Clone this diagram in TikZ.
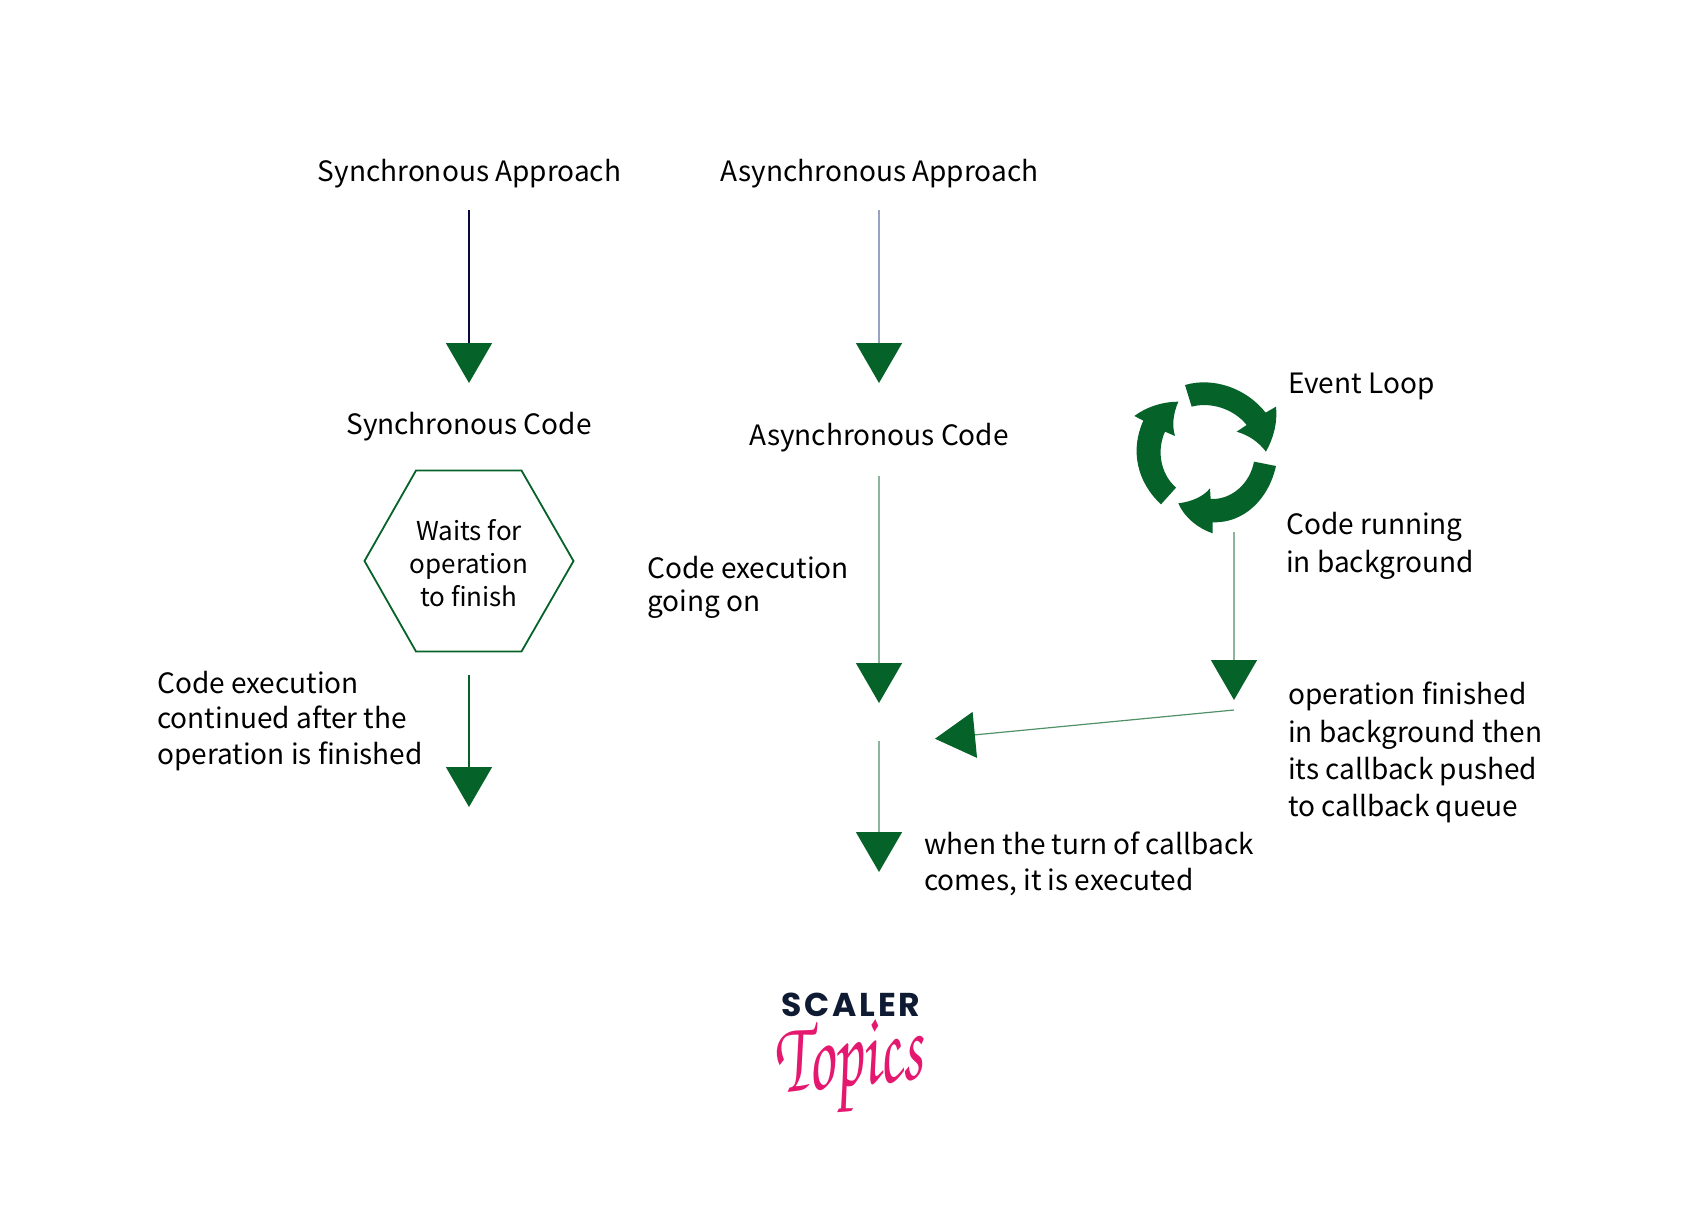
\documentclass[tikz,border=0pt]{standalone}
\usepackage{fontspec}
\setmainfont{Noto Sans CJK SC}
\newfontfamily\logofont[LetterSpace=8]{Poppins}
\usetikzlibrary{arrows.meta}
\definecolor{agreen}{HTML}{056228}
\definecolor{navyline}{HTML}{08083C}
\definecolor{blueline}{HTML}{98A2C4}
\definecolor{paleline}{HTML}{8DB59C}
\definecolor{logonavy}{HTML}{0F1B33}
\definecolor{logopink}{HTML}{E5186F}
\tikzset{
  lbl/.style={inner sep=0pt,font=\fontsize{28}{36}\selectfont,text=black},
  lblc/.style={lbl,align=center},
  lbll/.style={lbl,align=left,anchor=north west},
  flow/.style={line width=1.5pt,-{Triangle[width=46pt,length=40pt,fill=agreen,color=agreen]}},
  loopshape/.style={fill=agreen,draw=none},
}
\begin{document}
\begin{tikzpicture}[x=1pt,y=-1pt]
\useasboundingbox (0,0) rectangle (1700,1210);
\node[lbl] (synt) at (469.5,174) {Synchronous Approach};
\node[lbl] (asynt) at (879.5,174) {Asynchronous Approach};
\node[lbl] (sync) at (469,427) {Synchronous Code};
\node[lbl] (async) at (879,438) {Asynchronous Code};
\node[lbl] (ev) [anchor=west] at (1288,386) {Event Loop};
\coordinate (h1) at (364.5,561); \coordinate (h2) at (416,470.5); \coordinate (h3) at (521.5,470.5);
\coordinate (h4) at (573.5,561); \coordinate (h5) at (521.5,651.5); \coordinate (h6) at (416,651.5);
\draw[agreen,line width=1.8pt] (h1)--(h2)--(h3)--(h4)--(h5)--(h6)--cycle;
\node[lblc,font=\fontsize{26}{33}\selectfont] (wait) at (469,563) {Waits for\\operation\\to finish};
\node[lbll,font=\fontsize{28}{35.5}\selectfont] (cont) at (157,671) {Code execution\\continued after the\\operation is finished};
\node[lbll,font=\fontsize{28}{33.5}\selectfont] (going) at (647,556) {Code execution\\going on};
\node[lbll,font=\fontsize{28}{38}\selectfont] (bg) at (1286,512) {Code running\\in background};
\node[lbll,font=\fontsize{28}{37.3}\selectfont] (fin) at (1288,682) {operation finished\\in background then\\its callback pushed\\to callback queue};
\node[lbll] (turn) at (924,832) {when the turn of callback\\comes, it is executed};
\coordinate (a1) at (469,210); \coordinate (a1e) at (469,383);
\coordinate (a2) at (879,210); \coordinate (a2e) at (879,383);
\coordinate (a3) at (469,675); \coordinate (a3e) at (469,807);
\coordinate (a4) at (879,476); \coordinate (a4e) at (879,703);
\coordinate (a5) at (879,741); \coordinate (a5e) at (879,872);
\coordinate (a6) at (1234,532); \coordinate (a6e) at (1234,700);
\coordinate (a7) at (1234,710); \coordinate (a7e) at (935,738.7);
\draw[flow,navyline,line width=1.7pt] (a1)--(a1e);
\draw[flow,blueline] (a2)--(a2e);
\draw[flow,agreen] (a3)--(a3e);
\draw[flow,paleline] (a4)--(a4e);
\draw[flow,paleline] (a5)--(a5e);
\draw[flow,paleline] (a6)--(a6e);
\draw[flow,line width=1.2pt,draw=agreen!70] (a7)--(a7e);
\begin{scope}[shift={(1100,360)},x=0.3333pt,y=-0.3333pt]
\fill[loopshape] (255,75) .. controls (340,50) and (440,85) .. (497,158) -- (528,140) .. controls (533,190) and (520,235) .. (498,275) .. controls (475,245) and (445,225) .. (410,215) -- (440,195) .. controls (400,145) and (330,125) .. (275,140) -- cycle;
\fill[loopshape] (528,318) .. controls (505,420) and (430,490) .. (338,487) -- (338,520) .. controls (295,505) and (255,475) .. (235,430) .. controls (275,425) and (310,410) .. (330,385) -- (332,417) .. controls (395,420) and (450,370) .. (462,305) -- cycle;
\fill[loopshape] (183,433) .. controls (110,365) and (90,270) .. (130,182) -- (103,168) .. controls (140,140) and (190,125) .. (235,125) .. controls (220,160) and (215,195) .. (225,228) -- (195,215) .. controls (170,270) and (180,340) .. (228,383) -- cycle;
\end{scope}
\node[inner sep=0pt,text=logonavy,font=\logofont\bfseries\fontsize{33}{33}\selectfont] (scaler) at (851,1005) {SCALER};
\node[inner sep=0pt,text=logopink,rotate=6,xscale=0.72,yscale=1.12,font=\fontsize{92}{92}\selectfont] (topics) at (849,1068) {\usefont{OT1}{pzc}{mb}{it}Topics};
\end{tikzpicture}
\end{document}
